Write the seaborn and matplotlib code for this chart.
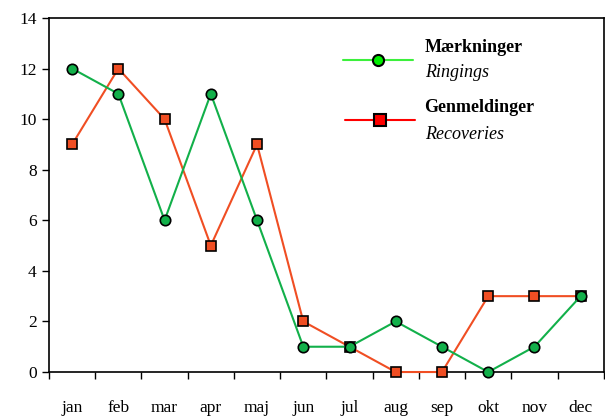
import matplotlib
matplotlib.use("Agg")
import matplotlib.pyplot as plt
import seaborn as sns
import numpy as np
import pandas as pd
from matplotlib.ticker import FixedLocator

months = ["jan", "feb", "mar", "apr", "maj", "jun", "jul", "aug", "sep", "okt", "nov", "dec"]
ringings = [12, 11, 6, 11, 6, 1, 1, 2, 1, 0, 1, 3]
recoveries = [9, 12, 10, 5, 9, 2, 1, 0, 0, 3, 3, 3]

sns.set_style("ticks")
plt.rcParams['font.family'] = ['Liberation Serif', 'DejaVu Serif']
plt.rcParams['text.color'] = 'black'
plt.rcParams['xtick.color'] = 'black'
plt.rcParams['ytick.color'] = 'black'
plt.rcParams['xtick.labelcolor'] = 'black'
plt.rcParams['ytick.labelcolor'] = 'black'

green = "#12b04a"
red = "#f04e23"

df = pd.DataFrame({"x": np.arange(len(months)), "ringings": ringings, "recoveries": recoveries})

fig, ax = plt.subplots(figsize=(6.05, 4.18), dpi=100)
fig.subplots_adjust(left=0.081, right=0.998, top=0.957, bottom=0.110)

sns.lineplot(data=df, x="x", y="recoveries", ax=ax, color=red, linewidth=1.5,
             marker="s", markersize=7.5, markerfacecolor=red, markeredgecolor="black",
             markeredgewidth=1.2, zorder=3, clip_on=False)
sns.lineplot(data=df, x="x", y="ringings", ax=ax, color=green, linewidth=1.5,
             marker="o", markersize=7.5, markerfacecolor=green, markeredgecolor="black",
             markeredgewidth=1.2, zorder=4, clip_on=False)

ax.set_xlim(-0.5, 11.5)
ax.set_ylim(0, 14)
ax.set_yticks(range(0, 15, 2))
ax.set_xticks(range(len(months)))
ax.set_xticklabels(months)
ax.xaxis.set_minor_locator(FixedLocator(np.arange(-0.5, 12, 1)))
ax.tick_params(axis="x", which="major", length=0, pad=20, labelsize=12.5)
ax.tick_params(axis="x", which="minor", length=5, width=1, direction="out")
ax.tick_params(axis="y", length=5, width=1, direction="out", labelsize=12.5, pad=4)
ax.set_xlabel("")
ax.set_ylabel("")
for s in ax.spines.values():
    s.set_linewidth(1.2)
    s.set_color("black")

# legend drawn by hand
ax.plot([0.530, 0.656], [0.881, 0.881], transform=ax.transAxes, color="#3cf03c", lw=1.5)
ax.plot([0.593], [0.881], transform=ax.transAxes, marker="o", markersize=8,
        markerfacecolor="#00ee00", markeredgecolor="black", markeredgewidth=1.5)
ax.plot([0.534, 0.660], [0.712, 0.712], transform=ax.transAxes, color="#ff0000", lw=1.5)
ax.plot([0.597], [0.712], transform=ax.transAxes, marker="s", markersize=8,
        markerfacecolor="#ff0000", markeredgecolor="black", markeredgewidth=1.5)
ax.text(0.677, 0.918, "Mærkninger", transform=ax.transAxes, fontsize=13,
        fontweight="bold", va="center", ha="left", color="black")
ax.text(0.677, 0.845, "Ringings", transform=ax.transAxes, fontsize=13,
        fontstyle="italic", va="center", ha="left", color="black")
ax.text(0.677, 0.746, "Genmeldinger", transform=ax.transAxes, fontsize=13,
        fontweight="bold", va="center", ha="left", color="black")
ax.text(0.677, 0.672, "Recoveries", transform=ax.transAxes, fontsize=13,
        fontstyle="italic", va="center", ha="left", color="black")

plt.savefig("out.png", dpi=100)
plt.close()
